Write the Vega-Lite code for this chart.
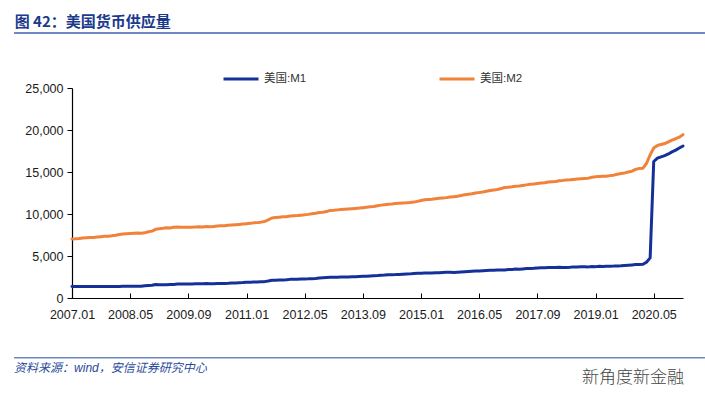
{
  "$schema": "https://vega.github.io/schema/vega-lite/v6.json",
  "width": 611,
  "height": 210,
  "autosize": {"type": "none"},
  "padding": {"left": 72, "top": 88, "right": 22, "bottom": 105},
  "background": "white",
  "config": {"view": {"stroke": null}, "font": "Liberation Sans"},
  "layer": [
    {
      "data": {"values": [
        {"date":"2007-01-01","M1":1371,"M2":7035},{"date":"2007-02-01","M1":1367,"M2":7060},{"date":"2007-03-01","M1":1370,"M2":7092},{"date":"2007-04-01","M1":1379,"M2":7143},{"date":"2007-05-01","M1":1378,"M2":7164},{"date":"2007-06-01","M1":1370,"M2":7190},{"date":"2007-07-01","M1":1369,"M2":7211},{"date":"2007-08-01","M1":1371,"M2":7271},{"date":"2007-09-01","M1":1375,"M2":7305},{"date":"2007-10-01","M1":1370,"M2":7337},{"date":"2007-11-01","M1":1370,"M2":7363},{"date":"2007-12-01","M1":1373,"M2":7398},
        {"date":"2008-01-01","M1":1379,"M2":7460},{"date":"2008-02-01","M1":1378,"M2":7557},{"date":"2008-03-01","M1":1390,"M2":7624},{"date":"2008-04-01","M1":1387,"M2":7661},{"date":"2008-05-01","M1":1392,"M2":7691},{"date":"2008-06-01","M1":1403,"M2":7716},{"date":"2008-07-01","M1":1412,"M2":7737},{"date":"2008-08-01","M1":1396,"M2":7720},{"date":"2008-09-01","M1":1455,"M2":7758},{"date":"2008-10-01","M1":1477,"M2":7892},{"date":"2008-11-01","M1":1509,"M2":7961},{"date":"2008-12-01","M1":1602,"M2":8178},
        {"date":"2009-01-01","M1":1580,"M2":8255},{"date":"2009-02-01","M1":1574,"M2":8297},{"date":"2009-03-01","M1":1584,"M2":8353},{"date":"2009-04-01","M1":1616,"M2":8345},{"date":"2009-05-01","M1":1617,"M2":8420},{"date":"2009-06-01","M1":1658,"M2":8442},{"date":"2009-07-01","M1":1654,"M2":8425},{"date":"2009-08-01","M1":1658,"M2":8412},{"date":"2009-09-01","M1":1675,"M2":8421},{"date":"2009-10-01","M1":1678,"M2":8435},{"date":"2009-11-01","M1":1700,"M2":8467},{"date":"2009-12-01","M1":1693,"M2":8483},
        {"date":"2010-01-01","M1":1694,"M2":8465},{"date":"2010-02-01","M1":1714,"M2":8520},{"date":"2010-03-01","M1":1707,"M2":8493},{"date":"2010-04-01","M1":1699,"M2":8515},{"date":"2010-05-01","M1":1718,"M2":8578},{"date":"2010-06-01","M1":1731,"M2":8595},{"date":"2010-07-01","M1":1740,"M2":8610},{"date":"2010-08-01","M1":1748,"M2":8660},{"date":"2010-09-01","M1":1772,"M2":8697},{"date":"2010-10-01","M1":1795,"M2":8731},{"date":"2010-11-01","M1":1818,"M2":8762},{"date":"2010-12-01","M1":1837,"M2":8798},
        {"date":"2011-01-01","M1":1870,"M2":8843},{"date":"2011-02-01","M1":1879,"M2":8885},{"date":"2011-03-01","M1":1898,"M2":8945},{"date":"2011-04-01","M1":1903,"M2":8973},{"date":"2011-05-01","M1":1929,"M2":9031},{"date":"2011-06-01","M1":1949,"M2":9106},{"date":"2011-07-01","M1":2023,"M2":9302},{"date":"2011-08-01","M1":2115,"M2":9524},{"date":"2011-09-01","M1":2118,"M2":9578},{"date":"2011-10-01","M1":2141,"M2":9619},{"date":"2011-11-01","M1":2152,"M2":9665},{"date":"2011-12-01","M1":2166,"M2":9667},
        {"date":"2012-01-01","M1":2218,"M2":9753},{"date":"2012-02-01","M1":2225,"M2":9800},{"date":"2012-03-01","M1":2232,"M2":9819},{"date":"2012-04-01","M1":2257,"M2":9863},{"date":"2012-05-01","M1":2269,"M2":9900},{"date":"2012-06-01","M1":2279,"M2":9955},{"date":"2012-07-01","M1":2302,"M2":10028},{"date":"2012-08-01","M1":2328,"M2":10084},{"date":"2012-09-01","M1":2384,"M2":10170},{"date":"2012-10-01","M1":2406,"M2":10215},{"date":"2012-11-01","M1":2434,"M2":10285},{"date":"2012-12-01","M1":2460,"M2":10428},
        {"date":"2013-01-01","M1":2458,"M2":10441},{"date":"2013-02-01","M1":2484,"M2":10491},{"date":"2013-03-01","M1":2499,"M2":10527},{"date":"2013-04-01","M1":2500,"M2":10563},{"date":"2013-05-01","M1":2502,"M2":10591},{"date":"2013-06-01","M1":2535,"M2":10626},{"date":"2013-07-01","M1":2537,"M2":10665},{"date":"2013-08-01","M1":2555,"M2":10703},{"date":"2013-09-01","M1":2576,"M2":10752},{"date":"2013-10-01","M1":2588,"M2":10805},{"date":"2013-11-01","M1":2617,"M2":10852},{"date":"2013-12-01","M1":2641,"M2":10905},
        {"date":"2014-01-01","M1":2668,"M2":10983},{"date":"2014-02-01","M1":2708,"M2":11055},{"date":"2014-03-01","M1":2727,"M2":11108},{"date":"2014-04-01","M1":2765,"M2":11172},{"date":"2014-05-01","M1":2780,"M2":11197},{"date":"2014-06-01","M1":2786,"M2":11239},{"date":"2014-07-01","M1":2810,"M2":11277},{"date":"2014-08-01","M1":2839,"M2":11311},{"date":"2014-09-01","M1":2870,"M2":11327},{"date":"2014-10-01","M1":2872,"M2":11364},{"date":"2014-11-01","M1":2904,"M2":11416},{"date":"2014-12-01","M1":2933,"M2":11506},
        {"date":"2015-01-01","M1":2958,"M2":11605},{"date":"2015-02-01","M1":2981,"M2":11701},{"date":"2015-03-01","M1":2988,"M2":11731},{"date":"2015-04-01","M1":2985,"M2":11755},{"date":"2015-05-01","M1":3009,"M2":11812},{"date":"2015-06-01","M1":3010,"M2":11866},{"date":"2015-07-01","M1":3040,"M2":11907},{"date":"2015-08-01","M1":3061,"M2":11950},{"date":"2015-09-01","M1":3072,"M2":12013},{"date":"2015-10-01","M1":3043,"M2":12058},{"date":"2015-11-01","M1":3073,"M2":12113},{"date":"2015-12-01","M1":3094,"M2":12194},
        {"date":"2016-01-01","M1":3117,"M2":12289},{"date":"2016-02-01","M1":3142,"M2":12350},{"date":"2016-03-01","M1":3172,"M2":12410},{"date":"2016-04-01","M1":3211,"M2":12502},{"date":"2016-05-01","M1":3223,"M2":12549},{"date":"2016-06-01","M1":3254,"M2":12618},{"date":"2016-07-01","M1":3276,"M2":12707},{"date":"2016-08-01","M1":3302,"M2":12790},{"date":"2016-09-01","M1":3314,"M2":12863},{"date":"2016-10-01","M1":3332,"M2":12919},{"date":"2016-11-01","M1":3341,"M2":13032},{"date":"2016-12-01","M1":3345,"M2":13150},
        {"date":"2017-01-01","M1":3381,"M2":13195},{"date":"2017-02-01","M1":3405,"M2":13249},{"date":"2017-03-01","M1":3439,"M2":13311},{"date":"2017-04-01","M1":3422,"M2":13338},{"date":"2017-05-01","M1":3466,"M2":13405},{"date":"2017-06-01","M1":3508,"M2":13469},{"date":"2017-07-01","M1":3505,"M2":13539},{"date":"2017-08-01","M1":3529,"M2":13572},{"date":"2017-09-01","M1":3565,"M2":13634},{"date":"2017-10-01","M1":3589,"M2":13677},{"date":"2017-11-01","M1":3600,"M2":13723},{"date":"2017-12-01","M1":3618,"M2":13806},
        {"date":"2018-01-01","M1":3639,"M2":13853},{"date":"2018-02-01","M1":3637,"M2":13873},{"date":"2018-03-01","M1":3652,"M2":13968},{"date":"2018-04-01","M1":3639,"M2":14002},{"date":"2018-05-01","M1":3641,"M2":14047},{"date":"2018-06-01","M1":3664,"M2":14068},{"date":"2018-07-01","M1":3705,"M2":14114},{"date":"2018-08-01","M1":3678,"M2":14163},{"date":"2018-09-01","M1":3710,"M2":14192},{"date":"2018-10-01","M1":3709,"M2":14225},{"date":"2018-11-01","M1":3705,"M2":14266},{"date":"2018-12-01","M1":3742,"M2":14376},
        {"date":"2019-01-01","M1":3735,"M2":14438},{"date":"2019-02-01","M1":3784,"M2":14479},{"date":"2019-03-01","M1":3745,"M2":14491},{"date":"2019-04-01","M1":3793,"M2":14503},{"date":"2019-05-01","M1":3787,"M2":14569},{"date":"2019-06-01","M1":3798,"M2":14624},{"date":"2019-07-01","M1":3824,"M2":14737},{"date":"2019-08-01","M1":3838,"M2":14818},{"date":"2019-09-01","M1":3880,"M2":14893},{"date":"2019-10-01","M1":3908,"M2":15000},{"date":"2019-11-01","M1":3942,"M2":15096},{"date":"2019-12-01","M1":3977,"M2":15311},
        {"date":"2020-01-01","M1":3989,"M2":15412},{"date":"2020-02-01","M1":4007,"M2":15453},{"date":"2020-03-01","M1":4258,"M2":16012},{"date":"2020-04-01","M1":4780,"M2":17034},{"date":"2020-05-01","M1":16250,"M2":17853},{"date":"2020-06-01","M1":16650,"M2":18152},{"date":"2020-07-01","M1":16800,"M2":18283},{"date":"2020-08-01","M1":16950,"M2":18383},{"date":"2020-09-01","M1":17150,"M2":18593},{"date":"2020-10-01","M1":17400,"M2":18803},{"date":"2020-11-01","M1":17600,"M2":18962},{"date":"2020-12-01","M1":17850,"M2":19150},
        {"date":"2021-01-01","M1":18100,"M2":19450}
      ]},
      "transform": [{"fold": ["M1", "M2"], "as": ["series", "value"]}],
      "mark": {"type": "line", "strokeWidth": 3, "strokeJoin": "round", "strokeCap": "round"},
      "encoding": {
        "x": {
          "field": "date", "type": "temporal",
          "scale": {"type": "utc", "domain": [{"year": 2007, "month": 1, "date": 1, "utc": true}, {"year": 2021, "month": 1, "date": 1, "utc": true}]},
          "axis": {
            "title": null, "grid": false, "format": "%Y.%m",
            "values": [
              {"year": 2007, "month": 1, "date": 1, "utc": true},
              {"year": 2008, "month": 5, "date": 1, "utc": true},
              {"year": 2009, "month": 9, "date": 1, "utc": true},
              {"year": 2011, "month": 1, "date": 1, "utc": true},
              {"year": 2012, "month": 5, "date": 1, "utc": true},
              {"year": 2013, "month": 9, "date": 1, "utc": true},
              {"year": 2015, "month": 1, "date": 1, "utc": true},
              {"year": 2016, "month": 5, "date": 1, "utc": true},
              {"year": 2017, "month": 9, "date": 1, "utc": true},
              {"year": 2019, "month": 1, "date": 1, "utc": true},
              {"year": 2020, "month": 5, "date": 1, "utc": true}
            ],
            "labelFont": "Liberation Sans", "labelFontSize": 12.5, "labelColor": "#1a1a1a",
            "labelFlush": false, "labelOverlap": false,
            "domainColor": "#000000", "domainWidth": 1.2, "tickColor": "#000000", "tickWidth": 1, "tickSize": -5,
            "labelPadding": 15, "labelBaseline": "top"
          }
        },
        "y": {
          "field": "value", "type": "quantitative",
          "scale": {"domain": [0, 25000], "nice": false, "zero": true},
          "axis": {
            "title": null, "grid": false, "format": ",d",
            "values": [0, 5000, 10000, 15000, 20000, 25000],
            "labelFont": "Liberation Sans", "labelFontSize": 12.5, "labelColor": "#1a1a1a",
            "labelPadding": 4, "tickSize": 5, "tickColor": "#000000", "domainColor": "#000000", "domainWidth": 1.2
          }
        },
        "color": {
          "field": "series", "type": "nominal",
          "scale": {"domain": ["M1", "M2"], "range": ["#16309a", "#f0823a"]},
          "legend": {
            "orient": "none", "legendX": 150, "legendY": -28, "direction": "horizontal", "title": null,
            "symbolType": "stroke", "symbolSize": 1225, "symbolStrokeWidth": 3,
            "labelExpr": "'美国:' + datum.label",
            "labelFont": "Liberation Sans, Noto Sans CJK SC", "labelFontSize": 11.5, "labelColor": "#333333",
            "columnPadding": 126, "labelOffset": 4
          }
        }
      }
    },
    {
      "data": {"values": [{"label": "图 42：美国货币供应量"}]},
      "mark": {"type": "text", "align": "left", "baseline": "alphabetic", "font": "Noto Sans CJK SC", "fontWeight": "bold", "fontSize": 15, "color": "#1b3a8c"},
      "encoding": {
        "x": {"datum": {"year": 2005, "month": 9, "date": 8, "utc": true}},
        "y": {"datum": 32300},
        "text": {"field": "label"}
      }
    },
    {
      "data": {"values": [{}]},
      "mark": {"type": "rule", "color": "#6f88c2", "strokeWidth": 2},
      "encoding": {
        "x": {"datum": {"year": 2005, "month": 9, "date": 3, "utc": true}},
        "x2": {"datum": {"year": 2021, "month": 7, "date": 4, "utc": true}},
        "y": {"datum": 31560}
      }
    },
    {
      "data": {"values": [{}]},
      "mark": {"type": "rule", "color": "#6f88c2", "strokeWidth": 1.5},
      "encoding": {
        "x": {"datum": {"year": 2005, "month": 9, "date": 3, "utc": true}},
        "x2": {"datum": {"year": 2021, "month": 7, "date": 4, "utc": true}},
        "y": {"datum": -7107}
      }
    },
    {
      "data": {"values": [{"label": "资料来源：wind，安信证券研究中心"}]},
      "mark": {"type": "text", "align": "left", "baseline": "alphabetic", "font": "Liberation Sans, Noto Sans CJK SC", "fontStyle": "italic", "fontSize": 12, "color": "#2a4a9a"},
      "encoding": {
        "x": {"datum": {"year": 2005, "month": 9, "date": 3, "utc": true}},
        "y": {"datum": -8850},
        "text": {"field": "label"}
      }
    },
    {
      "data": {"values": [{"label": "新角度新金融"}]},
      "mark": {"type": "text", "align": "left", "baseline": "alphabetic", "font": "Noto Sans CJK SC", "fontWeight": 300, "fontSize": 17, "color": "#444444"},
      "encoding": {
        "x": {"datum": {"year": 2018, "month": 9, "date": 8, "utc": true}},
        "y": {"datum": -10100},
        "text": {"field": "label"}
      }
    }
  ]
}
